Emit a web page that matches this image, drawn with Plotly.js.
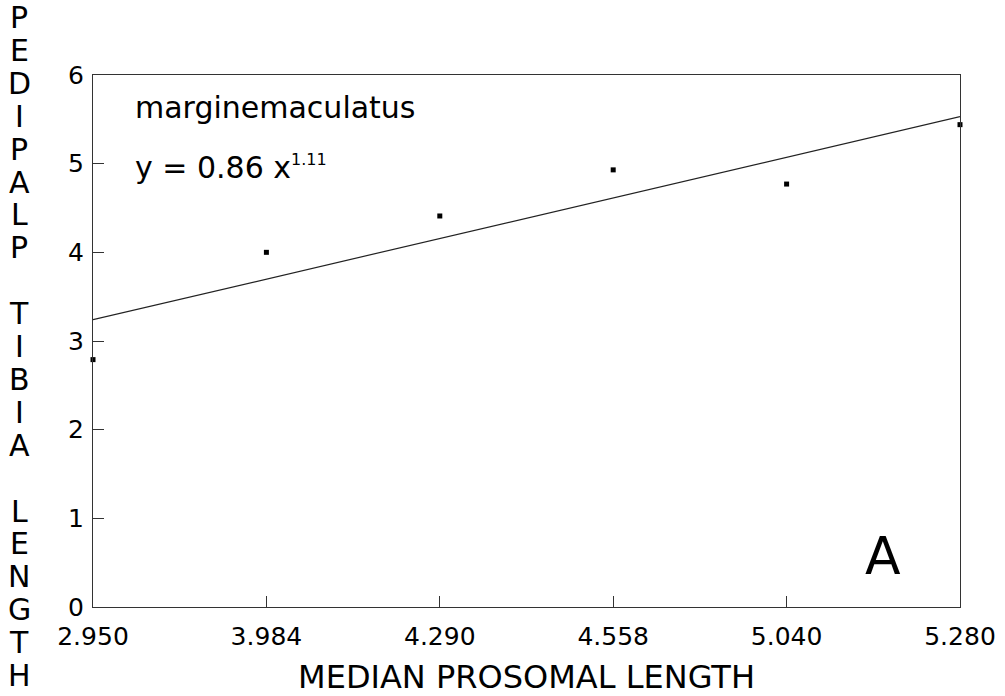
<!DOCTYPE html>
<html>
<head>
<meta charset="utf-8">
<script src="https://cdn.plot.ly/plotly-3.0.1.min.js"></script>
<style>
  html, body { margin: 0; padding: 0; background: #fff; }
  #chart { width: 1005px; height: 696px; }
</style>
</head>
<body>
<div id="chart"></div>
<script>
// ---- data ----
const categories = ['2.950', '3.984', '4.290', '4.558', '5.040', '5.280'];
const tibiaLength = [2.79, 4.00, 4.41, 4.93, 4.77, 5.44];
const fitX = ['2.950', '5.280'];
const fitY = [3.24, 5.53];
const yTickVals = [0, 1, 2, 3, 4, 5, 6];
const xTitle = 'MEDIAN PROSOMAL LENGTH';
const yTitle = 'PEDIPALP TIBIA LENGTH';
const speciesLabel = 'marginemaculatus';
const equationMain = 'y = 0.86 x';
const equationExp = '1.11';
const panelLabel = 'A';

// ---- layout helpers ----
const W = 1005, H = 696;
const M = { l: 93, r: 45, t: 75, b: 89 };
const PW = W - M.l - M.r, PH = H - M.t - M.b;
const px2x = p => (p - M.l) / PW;
const py2y = p => (H - M.b - p) / PH;
const FONT = '"DejaVu Sans", "Liberation Sans", Arial, sans-serif';

const annotations = [];
// stacked vertical y title
const letters = yTitle.split('');
letters.forEach((ch, i) => {
  if (ch === ' ') return;
  annotations.push({
    text: ch, xref: 'paper', yref: 'paper',
    x: px2x(19), y: py2y(17.5 + i * 32.9),
    xanchor: 'center', yanchor: 'middle', showarrow: false,
    font: { family: FONT, size: 30, color: '#000' }
  });
});
annotations.push({
  text: speciesLabel, xref: 'paper', yref: 'paper',
  x: px2x(133), y: py2y(107), xanchor: 'left', yanchor: 'middle',
  showarrow: false, font: { family: FONT, size: 30, color: '#000' }
});
annotations.push({
  text: equationMain + '<sup><span style="font-size:16px">' + equationExp + '</span></sup>',
  xref: 'paper', yref: 'paper',
  x: px2x(133), y: py2y(167), xanchor: 'left', yanchor: 'middle',
  showarrow: false, font: { family: FONT, size: 30, color: '#000' }
});
annotations.push({
  text: panelLabel, xref: 'paper', yref: 'paper',
  x: px2x(883), y: py2y(556), xanchor: 'center', yanchor: 'middle',
  showarrow: false, font: { family: FONT, size: 52, color: '#000' }
});

const traces = [
  {
    x: fitX, y: fitY, type: 'scatter', mode: 'lines',
    line: { color: '#222', width: 1.2 }, hoverinfo: 'skip', cliponaxis: false
  },
  {
    x: categories, y: tibiaLength, type: 'scatter', mode: 'markers',
    marker: { symbol: 'square', size: 5, color: '#000' }, cliponaxis: false
  }
];

const axisCommon = {
  showline: true, mirror: true, linecolor: '#333', linewidth: 1,
  ticks: 'inside', ticklen: 11, tickcolor: '#333', tickwidth: 1,
  showgrid: false, zeroline: false,
  tickfont: { family: FONT, size: 25, color: '#000' }
};

const layout = {
  width: W, height: H,
  margin: M,
  paper_bgcolor: '#fff', plot_bgcolor: '#fff',
  showlegend: false,
  xaxis: Object.assign({}, axisCommon, {
    type: 'category', range: [0, 5],
    categoryorder: 'array', categoryarray: categories,
    ticklabelstandoff: 7,
    title: { text: xTitle, font: { family: FONT, size: 32, color: '#000' }, standoff: 16 }
  }),
  yaxis: Object.assign({}, axisCommon, {
    range: [0, 6], tickvals: yTickVals, ticktext: yTickVals.map(String),
    ticklabelstandoff: 3
  }),
  annotations: annotations
};

Plotly.newPlot('chart', traces, layout, { staticPlot: true, displayModeBar: false });
</script>
</body>
</html>
